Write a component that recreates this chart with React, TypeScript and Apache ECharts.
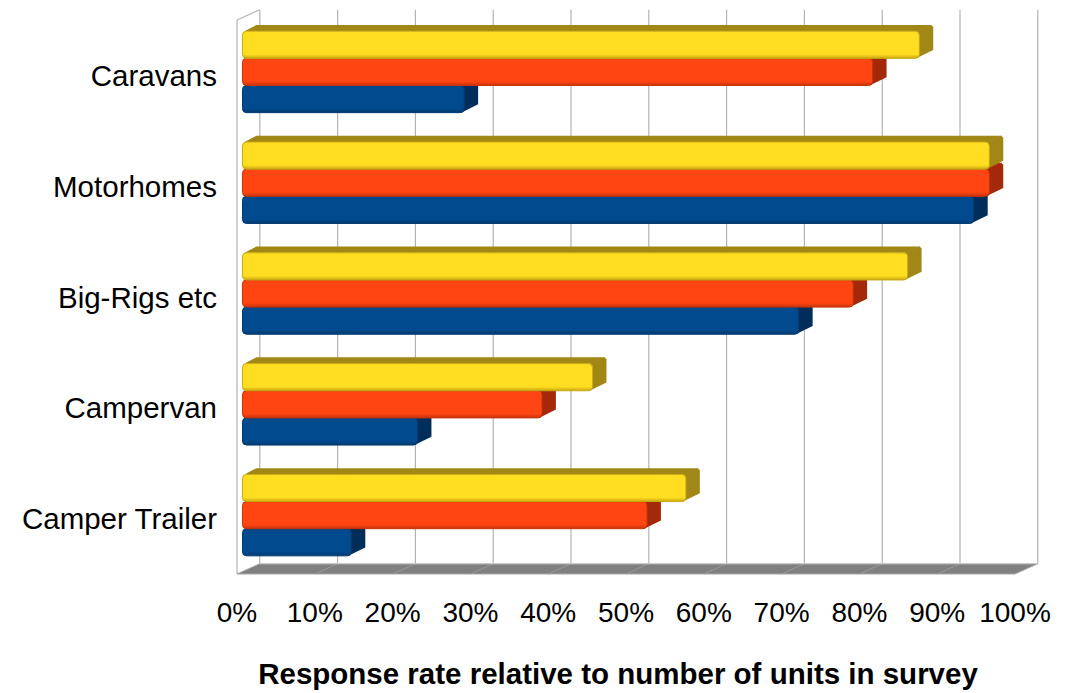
import React, { useEffect, useRef } from "react";
import * as echarts from "echarts";

// Vehicle categories, top to bottom
const categories = ["Caravans", "Motorhomes", "Big-Rigs etc", "Campervan", "Camper Trailer"];

// Response rates (%) for the three series, in category order
const yellowValues = [87, 96, 85.5, 45, 57];
const redValues = [81, 96, 78.5, 38.5, 52];
const blueValues = [28.5, 94, 71.5, 22.5, 14];

// Value-axis ticks (percent)
const xTicks = [0, 10, 20, 30, 40, 50, 60, 70, 80, 90, 100];

const axisTitle = "Response rate relative to number of units in survey";

// Depth of the 3D box in screen pixels, and the slice of it that the bars occupy
const DEPTH_X = 22.8;
const DEPTH_Y = -10.3;
const BAR_FRONT = 0.24;
const BAR_BACK = 0.85;

type BarColors = { front: string; top: string; side: string; edge: string };

const YELLOW: BarColors = { front: "#FFDD20", top: "#A08716", side: "#A08716", edge: "#C9A912" };
const RED: BarColors = { front: "#FF4511", top: "#A8300E", side: "#A3290A", edge: "#C7330B" };
const BLUE: BarColors = { front: "#004A8D", top: "#00356A", side: "#002D5A", edge: "#003A70" };

function barRenderer(slot: number, colors: BarColors) {
  return (params: any, api: any) => {
    const cat = api.value(0);
    const v = api.value(1);
    const base = api.coord([0, cat]);
    const end = api.coord([v, cat]);
    const band = api.size([0, 1])[1];
    const t = band * 0.245;
    const fx = DEPTH_X * BAR_FRONT;
    const fy = DEPTH_Y * BAR_FRONT;
    const bx = DEPTH_X * (BAR_BACK - BAR_FRONT);
    const by = DEPTH_Y * (BAR_BACK - BAR_FRONT);
    const y0 = base[1] - 1.5 * t - 1 + fy + slot * t;
    const x0 = base[0] + fx;
    const x1 = end[0] + fx;
    return {
      type: "group",
      children: [
        {
          type: "polygon",
          shape: { points: [[x0 + 2, y0], [x1 - 2, y0], [x1 + bx - 1, y0 + by], [x0 + bx, y0 + by]] },
          style: { fill: colors.top },
        },
        {
          type: "polygon",
          shape: {
            points: [
              [x1 - 3, y0],
              [x1 + bx - 2, y0 + by],
              [x1 + bx, y0 + by + 2],
              [x1 + bx, y0 + by + t - 2],
              [x1 - 3, y0 + t],
            ],
          },
          style: { fill: colors.side },
        },
        {
          type: "rect",
          shape: { x: x0, y: y0, width: Math.max(0, x1 - x0), height: t, r: 4 },
          style: {
            fill: {
              type: "linear",
              x: 0, y: 0, x2: 0, y2: 1,
              colorStops: [
                { offset: 0, color: colors.front },
                { offset: 0.85, color: colors.front },
                { offset: 1, color: colors.edge },
              ],
            },
            stroke: colors.edge,
            lineWidth: 1,
          },
        },
      ],
    };
  };
}

// Back wall, left wall and floor of the 3D box
function frameRenderer(params: any, api: any) {
  const cs = params.coordSys;
  const left = cs.x;
  const top = cs.y;
  const right = cs.x + cs.width;
  const bottom = cs.y + cs.height;
  const children: any[] = [];
  const gridColor = "#B3B3B3";

  xTicks.forEach((t) => {
    const x = api.coord([t, 0])[0];
    children.push({
      type: "line",
      shape: { x1: x + DEPTH_X, y1: top + DEPTH_Y, x2: x + DEPTH_X, y2: bottom + DEPTH_Y },
      style: { stroke: gridColor, lineWidth: 1.2 },
    });
  });

  // left wall outline
  children.push({
    type: "line",
    shape: { x1: left, y1: top, x2: left, y2: bottom },
    style: { stroke: gridColor, lineWidth: 1.2 },
  });
  children.push({
    type: "line",
    shape: { x1: left, y1: top, x2: left + DEPTH_X, y2: top + DEPTH_Y },
    style: { stroke: gridColor, lineWidth: 1.2 },
  });

  // floor
  children.push({
    type: "polygon",
    shape: {
      points: [
        [left, bottom],
        [right, bottom],
        [right + DEPTH_X, bottom + DEPTH_Y],
        [left + DEPTH_X, bottom + DEPTH_Y],
      ],
    },
    style: { fill: "#808080", stroke: "#A6A6A6", lineWidth: 1 },
  });
  xTicks.forEach((t) => {
    if (t === 0 || t === 100) return;
    const x = api.coord([t, 0])[0];
    children.push({
      type: "line",
      shape: { x1: x, y1: bottom, x2: x + DEPTH_X, y2: bottom + DEPTH_Y },
      style: { stroke: "#9A9A9A", lineWidth: 1 },
    });
  });
  children.push({
    type: "line",
    shape: { x1: left + DEPTH_X, y1: bottom + DEPTH_Y, x2: right + DEPTH_X, y2: bottom + DEPTH_Y },
    style: { stroke: "#C8C8C8", lineWidth: 1.2 },
  });

  return { type: "group", children };
}

const toData = (vals: number[]) => vals.map((v, i) => [i, v]);

export default function App() {
  const ref = useRef<HTMLDivElement>(null);

  useEffect(() => {
    if (!ref.current) return;
    const chart = echarts.init(ref.current, null, { renderer: "svg" });
    const font = "'Liberation Sans', Arial, sans-serif";
    chart.setOption({
      animation: false,
      backgroundColor: "#FFFFFF",
      grid: { left: 237, right: 56, top: 20, bottom: 115, containLabel: false },
      xAxis: {
        type: "value",
        min: 0,
        max: 100,
        interval: 10,
        axisLine: { show: false },
        axisTick: { show: false },
        splitLine: { show: false },
        axisLabel: {
          formatter: "{value}%",
          fontSize: 28,
          fontFamily: font,
          color: "#000000",
          margin: 24,
        },
        name: axisTitle,
        nameLocation: "middle",
        nameGap: 84,
        nameTextStyle: {
          fontSize: 29.5,
          fontWeight: "bold",
          fontFamily: font,
          color: "#000000",
          padding: [0, 16, 0, 0],
        },
      },
      yAxis: {
        type: "category",
        data: categories,
        inverse: true,
        axisLine: { show: false },
        axisTick: { show: false },
        splitLine: { show: false },
        axisLabel: {
          fontSize: 29.5,
          fontFamily: font,
          color: "#000000",
          margin: 20,
        },
      },
      series: [
        { type: "custom", name: "frame", renderItem: frameRenderer, data: [[0, 0]], clip: false, silent: true, z: 1 },
        { type: "custom", name: "Series 3", renderItem: barRenderer(2, BLUE), data: toData(blueValues), clip: false, z: 2 },
        { type: "custom", name: "Series 2", renderItem: barRenderer(1, RED), data: toData(redValues), clip: false, z: 3 },
        { type: "custom", name: "Series 1", renderItem: barRenderer(0, YELLOW), data: toData(yellowValues), clip: false, z: 4 },
      ],
    });
    return () => chart.dispose();
  }, []);

  return (
    <div
      ref={ref}
      style={{ position: "absolute", left: 0, top: 0, width: 1071, height: 693, background: "#fff" }}
    />
  );
}
